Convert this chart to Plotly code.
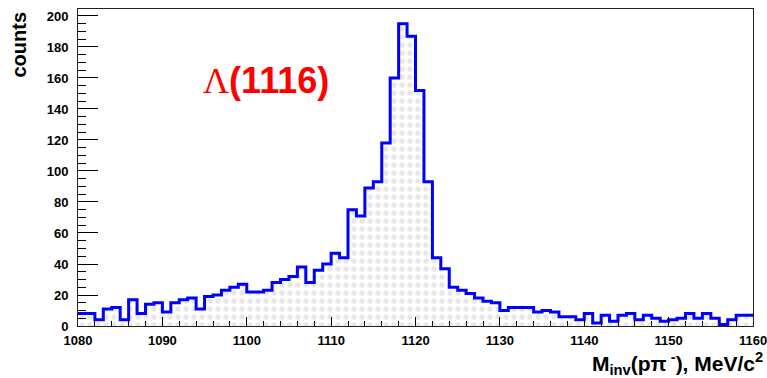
import plotly.graph_objects as go

# bin lower edges (MeV/c^2), 1 MeV bins
bin_start = 1080
bin_width = 1
counts = [
    8, 8, 4, 11, 12, 4, 17, 8, 14, 15,          # 1080-1089
    9, 15, 17, 18, 11, 19, 20, 23, 25, 27,      # 1090-1099
    22, 22, 23, 28, 30, 32, 38, 28, 36, 40,     # 1100-1109
    47, 44, 75, 71, 89, 93, 118, 160, 195, 187, # 1110-1119
    152, 93, 44, 37, 25, 23, 21, 18, 16, 15,    # 1120-1129
    10, 12, 12, 12, 9, 10, 9, 6, 6, 4,          # 1130-1139
    8, 2, 7, 3, 7, 8, 4, 7, 5, 3,               # 1140-1149
    4, 5, 8, 5, 8, 5, 1, 4, 7, 7,               # 1150-1159
]
x_tickvals = [1080, 1090, 1100, 1110, 1120, 1130, 1140, 1150, 1160]
y_tickvals = [0, 20, 40, 60, 80, 100, 120, 140, 160, 180, 200]

edges = [bin_start + i * bin_width for i in range(len(counts) + 1)]
yvals = counts + [counts[-1]]

fig = go.Figure()
fig.add_trace(go.Scatter(
    x=edges, y=yvals, mode="lines", line_shape="hv",
    line=dict(color="#0000ff", width=3),
    fill="tozeroy", fillcolor="rgba(0,0,0,0)",
    fillpattern=dict(shape=".", size=8, solidity=0.35, fgcolor="#cfcfcf", bgcolor="white"),
    hoverinfo="skip", showlegend=False,
))

tickfont = dict(family="Liberation Sans", size=13, color="black", weight="bold")

fig.update_layout(
    width=767, height=378,
    margin=dict(l=78, r=14, t=9, b=52, autoexpand=False),
    paper_bgcolor="white", plot_bgcolor="white",
    xaxis=dict(
        range=[1080, 1160], tickvals=x_tickvals, ticks="inside", ticklen=9,
        tickcolor="black", tickwidth=1, showgrid=False, zeroline=False,
        showline=True, linecolor="#222", linewidth=1, mirror=True,
        tickfont=tickfont, ticklabelstandoff=2, ticklabeloverflow="allow",
        automargin=False,
        minor=dict(ticks="inside", ticklen=5, dtick=2, tickcolor="black", showgrid=False),
    ),
    yaxis=dict(
        range=[0, 204.5], tickvals=y_tickvals, ticks="inside", ticklen=20,
        tickcolor="black", tickwidth=1, showgrid=False, zeroline=False,
        showline=True, linecolor="#222", linewidth=1, mirror=True,
        tickfont=tickfont, ticklabelstandoff=6, ticklabeloverflow="allow",
        automargin=False,
        minor=dict(ticks="inside", ticklen=8, dtick=5, tickcolor="black", showgrid=False),
    ),
    annotations=[
        dict(text="<span style='font-family:Liberation Serif;font-weight:normal'>Λ</span>(1116)",
             xref="paper", yref="paper", x=0.279, y=0.776, xanchor="center", yanchor="middle",
             showarrow=False,
             font=dict(family="Liberation Sans", size=36, color="#ff0000", weight="bold")),
        dict(text="counts", xref="paper", yref="paper", x=-0.088, y=0.997,
             xanchor="center", yanchor="top", textangle=-90, showarrow=False,
             font=dict(family="Liberation Sans", size=20, color="black", weight="bold")),
        dict(text="M<sub>inv</sub>(pπ<sup> -</sup>), MeV/c<sup>2</sup>",
             xref="paper", yref="paper", x=1.018, y=-0.17, xanchor="right", yanchor="bottom",
             showarrow=False,
             font=dict(family="Liberation Sans", size=21, color="black", weight="bold")),
    ],
)

fig.write_html("out.html")
